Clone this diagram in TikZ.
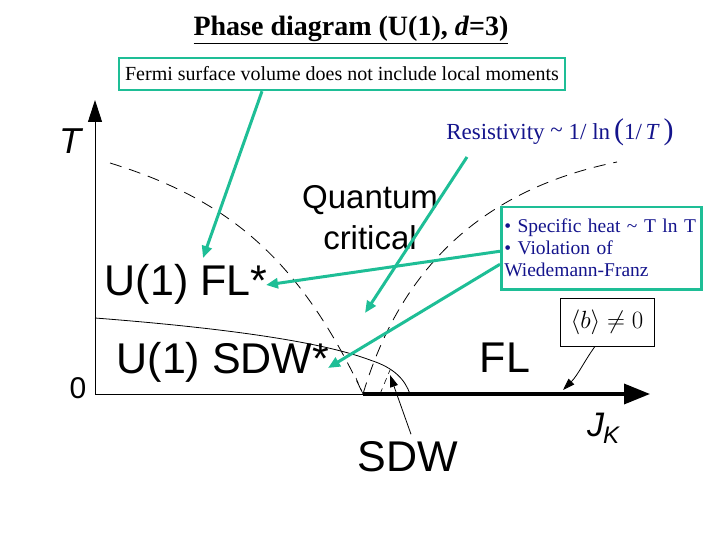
\documentclass[tikz,border=0pt]{standalone}
\usepackage{fontspec}
\setmainfont{Liberation Serif}
\setsansfont{Liberation Sans}
\usetikzlibrary{arrows.meta}
\definecolor{teal1}{RGB}{30,190,150}
\definecolor{navy}{RGB}{20,20,140}
\tikzset{
 tealbox/.style={draw=teal1,line width=2.5pt,inner sep=3pt},
 tealarr/.style={draw=teal1,line width=3pt,-{Triangle[length=12pt,width=10pt]}},
 big/.style={font=\sffamily\fontsize{43}{46}\selectfont},
 mid/.style={font=\sffamily\fontsize{33}{36}\selectfont},
 dash1/.style={dash pattern=on 12pt off 8pt,line width=0.8pt},
}
\begin{document}
\begin{tikzpicture}[x=1pt,y=-1pt]
\useasboundingbox (0,0) rectangle (720,540);
\node[font=\bfseries\fontsize{28}{30}\selectfont] (title) at (351,30) {\underline{Phase diagram (U(1), \textit{d}=3)}};
\node[tealbox,font=\fontsize{20}{22}\selectfont,minimum width=446pt,minimum height=32pt] (fermi) at (342,74) {Fermi surface volume does not include local moments};
% axes
\coordinate (O) at (95,394);
\coordinate (Ttop) at (95,100);
\coordinate (qcp) at (363,394);
\coordinate (Jend) at (650,394);
\draw[line width=1pt,-{Triangle[length=22pt,width=14pt]}] (O) -- (Ttop);
\draw[line width=1pt] (O) -- (qcp);
\draw[line width=3.5pt,-{Triangle[length=26pt,width=20pt]}] (qcp) -- (Jend);
\node[font=\sffamily\itshape\fontsize{36}{38}\selectfont] (T) at (70,141) {T};
\node[font=\sffamily\fontsize{30}{32}\selectfont] (zero) at (78,388) {0};
\node[font=\sffamily\itshape\fontsize{34}{36}\selectfont] (JK) at (603,428) {J\kern-1pt\raisebox{-7pt}{\fontsize{24}{26}\selectfont K}};
% crossover lines
\draw[dash1] (110,163) .. controls (230,200) and (300,260) .. (363,394);
\draw[dash1] (363,394) .. controls (400,270) and (480,190) .. (617,162);
\draw[line width=0.8pt] (95,318) .. controls (250,330) and (330,345) .. (370,360) .. controls (395,368) and (405,380) .. (410,394);
\draw[line width=0.6pt,dash pattern=on 6pt off 5pt] (380,394) -- (390,370);
\draw[line width=0.6pt,dash pattern=on 6pt off 5pt] (356,378) -- (363,394);
% labels
\node[mid] (qc1) at (370,200) {Quantum};
\node[mid] (qc2) at (370,238) {critical};
\node[big] (flstar) at (186,284) {U(1) FL*};
\node[big] (sdwstar) at (223,362) {U(1) SDW*};
\node[big] (fl) at (505,358) {FL};
\node[big] (sdw) at (408,457) {SDW};
\node[text=navy,font=\fontsize{23}{25}\selectfont] (res) at (560,132) {Resistivity \raisebox{2pt}{\textasciitilde} 1/ ln\,\fontsize{30}{30}\selectfont(\fontsize{23}{25}\selectfont1/\,\textit{T}\,\fontsize{30}{30}\selectfont)};
\node[tealbox,text=navy,align=left,font=\fontsize{19.5}{22}\selectfont,minimum width=200pt,minimum height=82pt,text width=194pt,inner sep=2pt,anchor=north west] (box2) at (500,206) {\textbullet{} Specific heat \textasciitilde{} T ln T\\\textbullet{} Violation of\\Wiedemann-Franz};
\node[draw,line width=0.8pt,font=\fontsize{28}{30}\selectfont,minimum width=94pt,minimum height=48pt] (bbox) at (607,322) {$\langle b\rangle\neq 0$};
% arrows
\coordinate (flarr) at (563,390);
\draw[line width=0.8pt,-{Triangle[length=12pt,width=8pt]}] (bbox.south) ++(-12,0) .. controls (585,360) and (578,375) .. (flarr);
\coordinate (sdwtip) at (390,375);
\draw[line width=0.8pt,-{Triangle[length=12pt,width=8pt]}] (sdw.north) ++(3,-4) -- (sdwtip);
\coordinate (a1) at (203,258);
\coordinate (a2) at (365,313);
\coordinate (a3) at (266,285);
\coordinate (a4) at (328,368);
\draw[tealarr] (fermi.south) ++(-80,0) -- (a1);
\draw[tealarr] (467,157) -- (a2);
\draw[tealarr] (box2.west) ++(0,3) -- (a3);
\draw[tealarr] (box2.west) ++(0,16) -- (a4);
\end{tikzpicture}
\end{document}
